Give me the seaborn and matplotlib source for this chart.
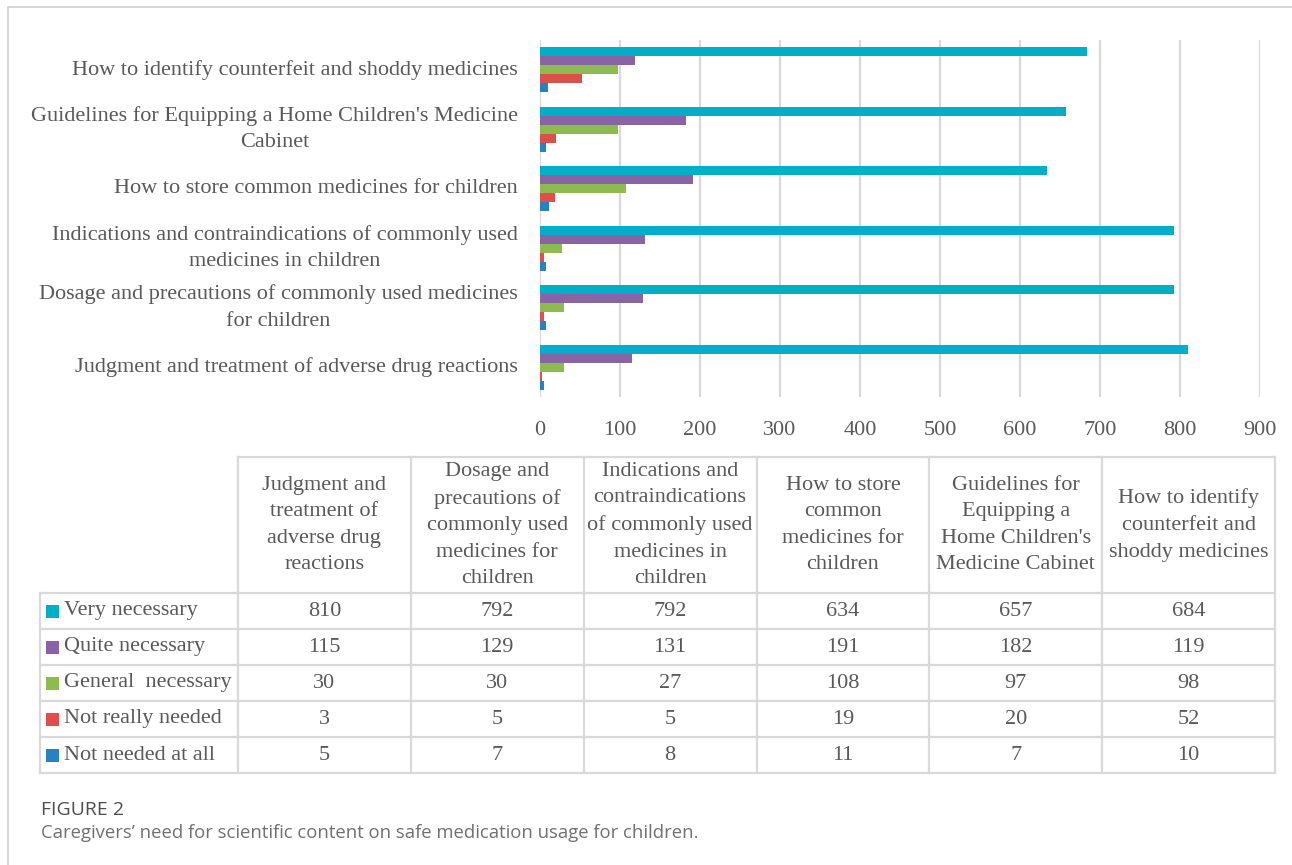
import matplotlib
matplotlib.use("Agg")
import matplotlib.pyplot as plt
from matplotlib.lines import Line2D
from matplotlib.patches import Rectangle
import seaborn as sns
import pandas as pd

# ---- data -------------------------------------------------------------
topics = [
    "Judgment and treatment of adverse drug reactions",
    "Dosage and precautions of commonly used medicines for children",
    "Indications and contraindications of commonly used medicines in children",
    "How to store common medicines for children",
    "Guidelines for Equipping a Home Children's Medicine Cabinet",
    "How to identify counterfeit and shoddy medicines",
]
axis_labels = [
    "Judgment and treatment of adverse drug reactions",
    "Dosage and precautions of commonly used medicines\nfor children",
    "Indications and contraindications of commonly used\nmedicines in children",
    "How to store common medicines for children",
    "Guidelines for Equipping a Home Children's Medicine\nCabinet",
    "How to identify counterfeit and shoddy medicines",
]
table_headers = [
    "Judgment and\ntreatment of\nadverse drug\nreactions",
    "Dosage and\nprecautions of\ncommonly used\nmedicines for\nchildren",
    "Indications and\ncontraindications\nof commonly used\nmedicines in\nchildren",
    "How to store\ncommon\nmedicines for\nchildren",
    "Guidelines for\nEquipping a\nHome Children's\nMedicine Cabinet",
    "How to identify\ncounterfeit and\nshoddy medicines",
]
levels = ["Very necessary", "Quite necessary", "General  necessary",
          "Not really needed", "Not needed at all"]
very_necessary = [810, 792, 792, 634, 657, 684]
quite_necessary = [115, 129, 131, 191, 182, 119]
general_necessary = [30, 30, 27, 108, 97, 98]
not_really_needed = [3, 5, 5, 19, 20, 52]
not_needed_at_all = [5, 7, 8, 11, 7, 10]
x_ticks = [0, 100, 200, 300, 400, 500, 600, 700, 800, 900]

colors = ["#00AEC7", "#8A63A4", "#8DBB4F", "#DE4F4C", "#2681C5"]
series = [very_necessary, quite_necessary, general_necessary,
          not_really_needed, not_needed_at_all]

rows = []
for level, vals in zip(levels, series):
    for topic, v in zip(topics, vals):
        rows.append({"topic": topic, "level": level, "count": v})
df = pd.DataFrame(rows)

# ---- style ------------------------------------------------------------
sns.set_style("white")
plt.rcParams["font.family"] = ["Liberation Serif", "DejaVu Serif"]
TXT = "#595959"
GRID = "#d9d9d9"
FS = 16
LS = 1.54

W, H = 1292, 865
fig = plt.figure(figsize=(W / 100, H / 100), dpi=100)
fig.patch.set_facecolor("white")

# page frame
fig.add_artist(Line2D([8 / W, 1], [1 - 7 / H, 1 - 7 / H], color="#cfcfcf", lw=1.2))
fig.add_artist(Line2D([8 / W, 8 / W], [0, 1 - 7 / H], color="#cfcfcf", lw=1.2))

# ---- bar chart --------------------------------------------------------
ax = fig.add_axes([540 / W, 1 - 397 / H, 720 / W, 357 / H])
order = topics[::-1]
sns.barplot(data=df, y="topic", x="count", hue="level", order=order,
            hue_order=levels, palette=colors, orient="h", width=0.76,
            saturation=1, legend=False, ax=ax, linewidth=0)
ax.set_xlim(0, 900)
ax.set_ylim(5.5, -0.5)
ax.set_xticks(x_ticks)
ax.set_xticklabels([str(t) for t in x_ticks], fontsize=FS, color=TXT)
ax.set_yticks(range(len(order)))
ax.set_yticklabels(axis_labels[::-1], fontsize=FS, color=TXT)
for lbl in ax.get_yticklabels():
    lbl.set_multialignment("center")
    lbl.set_linespacing(LS)
    lbl.set_verticalalignment("center")
ax.set_xlabel("")
ax.set_ylabel("")
ax.grid(axis="x", color=GRID, lw=1.6)
ax.grid(axis="y", visible=False)
ax.set_axisbelow(True)
for s in ax.spines.values():
    s.set_visible(False)
ax.tick_params(axis="x", length=0, pad=17)
ax.tick_params(axis="y", length=0, pad=16)

# ---- data table -------------------------------------------------------
tx0, tx1, ty0, ty1 = 40, 1275, 457, 773
tax = fig.add_axes([tx0 / W, 1 - ty1 / H, (tx1 - tx0) / W, (ty1 - ty0) / H])
tax.set_xlim(0, tx1 - tx0)
tax.set_ylim(ty1 - ty0, 0)
tax.axis("off")

first_w = 198
col_w = (tx1 - tx0 - first_w) / len(topics)
head_h = 136
row_h = 36
col_edges = [0, first_w] + [first_w + col_w * (k + 1) for k in range(len(topics))]
row_edges = [0, head_h] + [head_h + row_h * (k + 1) for k in range(len(levels))]
total_w = tx1 - tx0
total_h = row_edges[-1]

lkw = dict(color=GRID, lw=1.6, clip_on=False, solid_capstyle="projecting")
# horizontal rules
tax.plot([first_w, total_w], [0, 0], **lkw)
for y in row_edges[1:]:
    tax.plot([0, total_w], [y, y], **lkw)
# vertical rules
tax.plot([0, 0], [head_h, total_h], **lkw)
for x in col_edges[1:]:
    tax.plot([x, x], [0, total_h], **lkw)

# header cells
for k, head in enumerate(table_headers):
    cx = first_w + col_w * (k + 0.5)
    tax.text(cx, head_h / 2, head, ha="center", va="center", fontsize=FS,
             color=TXT, multialignment="center", linespacing=LS)

# body rows
for r, (level, vals, col) in enumerate(zip(levels, series, colors)):
    cy = head_h + row_h * (r + 0.5)
    tax.add_patch(Rectangle((6, cy - 6.5), 13, 13, color=col, lw=0))
    tax.text(24, cy, level, ha="left", va="center", fontsize=FS, color=TXT)
    for k, v in enumerate(vals):
        cx = first_w + col_w * (k + 0.5)
        tax.text(cx, cy, str(v), ha="center", va="center", fontsize=FS, color=TXT)

# ---- caption ----------------------------------------------------------
fig.text(41 / W, 1 - 810 / H, "FIGURE 2", fontsize=14, color="#4d4d4d",
         family=["Open Sans", "DejaVu Sans"], fontweight="medium", va="center")
fig.text(41 / W, 1 - 833 / H,
         "Caregivers\u2019 need for scientific content on safe medication usage for children.",
         fontsize=13.3, color="#707070", family=["Open Sans", "DejaVu Sans"], va="center")

fig.savefig("out.png", dpi=100)
